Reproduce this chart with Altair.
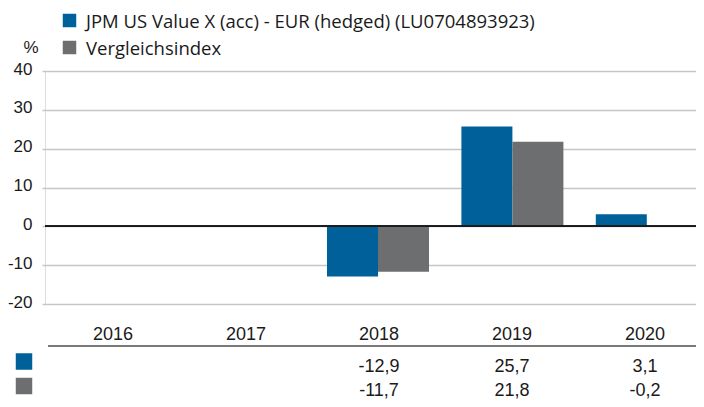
import altair as alt
import pandas as pd

# ---- data ----
years = ["2016", "2017", "2018", "2019", "2020"]
series_names = ["JPM US Value X (acc) - EUR (hedged) (LU0704893923)", "Vergleichsindex"]
fund_values = [None, None, -12.9, 25.7, 3.1]
index_values = [None, None, -11.7, 21.8, -0.2]
y_ticks = [-20, -10, 0, 10, 20, 30, 40]
colors = ["#00609a", "#6d6e70"]

rows = []
for i, yr in enumerate(years):
    rows.append({"year": yr, "series": series_names[0], "value": fund_values[i]})
    rows.append({"year": yr, "series": series_names[1], "value": index_values[i]})
df = pd.DataFrame(rows)
df_years = pd.DataFrame({"year": years})

W = 651
H = 233
FONT = "Liberation Sans"
LFONT = "Open Sans"
TXT = "#1a1a1a"

bar_x = alt.X("year:N", sort=years, axis=None,
              scale=alt.Scale(range=[-3, 669], paddingInner=0.241, paddingOuter=0.1205))
tab_x = alt.X("year:N", sort=years, axis=None,
              scale=alt.Scale(range=[1.5, 666.5], paddingInner=0, paddingOuter=0))
yscale = alt.Scale(domain=[-20, 40], nice=False)
yaxis = alt.Axis(values=y_ticks, title=None, grid=True, gridColor="#c6c6c6",
                 gridWidth=1.5, domain=False, ticks=False, labelFont=FONT,
                 labelFontSize=17, labelColor=TXT, labelPadding=13,
                 labelOffset=-2, labelBaseline="middle", labelOverlap=False,
                 labelExpr="(datum.value < 0 ? '-' : '') + abs(datum.value)")

bars = alt.Chart(df).mark_bar().encode(
    x=bar_x,
    xOffset=alt.XOffset("series:N", sort=series_names,
                        scale=alt.Scale(paddingInner=0, paddingOuter=0)),
    y=alt.Y("value:Q", scale=yscale, axis=yaxis),
    color=alt.Color("series:N", scale=alt.Scale(domain=series_names, range=colors), legend=None),
)

zero = alt.Chart(df_years).mark_rule(color="#1a1a1a", strokeWidth=1.5).encode(
    y=alt.YDatum(0, axis=yaxis), x=alt.value(0), x2=alt.value(W)
)

year_labels = alt.Chart(df_years).mark_text(
    font=FONT, fontSize=18, color=TXT, baseline="alphabetic", align="center"
).encode(x=tab_x, y=alt.value(269), text="year:N")

table_line = alt.Chart(df_years).mark_rule(color="#7a7a7a", strokeWidth=1.3).encode(
    x=alt.value(3), x2=alt.value(W), y=alt.value(275)
)

def value_row(sname, ypos):
    return alt.Chart(df).transform_filter(
        alt.datum.series == sname
    ).transform_calculate(
        label="datum.value == null ? '' : (datum.value < 0 ? '-' : '') + replace(format(abs(datum.value), '.1f'), '.', ',')"
    ).mark_text(font=FONT, fontSize=18, color=TXT, baseline="alphabetic", align="center").encode(
        x=tab_x, y=alt.value(ypos), text="label:N"
    )

row1 = value_row(series_names[0], 301)
row2 = value_row(series_names[1], 325)

def square(color, x, y, size):
    return alt.Chart(df_years).transform_filter(alt.datum.year == years[0]).mark_square(
        size=size, color=color, opacity=1
    ).encode(x=alt.value(x), y=alt.value(y))

sq_t1 = square(colors[0], -21, 290.5, 272)
sq_t2 = square(colors[1], -21, 315, 272)
sq_l1 = square(colors[0], 24.5, -50.5, 182)
sq_l2 = square(colors[1], 24.5, -23.5, 182)

def label(text, x, y, align="left", font=LFONT, size=18.5):
    return alt.Chart(df_years).transform_filter(alt.datum.year == years[0]).mark_text(
        font=font, fontSize=size, color=TXT, baseline="alphabetic", align=align, text=text
    ).encode(x=alt.value(x), y=alt.value(y))

leg1 = label(series_names[0], 41, -43)
leg2 = label(series_names[1], 41, -16.5)
pct = label("%", -14, -18, align="center", font=FONT, size=17)

chart = alt.layer(
    bars, zero, year_labels, table_line, row1, row2,
    sq_t1, sq_t2, sq_l1, sq_l2, leg1, leg2, pct
).resolve_scale(x="independent").properties(
    width=W, height=H,
    autosize=alt.AutoSizeParams(type="none"),
    padding={"left": 37, "top": 63, "right": 0, "bottom": 95},
).configure_view(stroke=None).configure(background="white")

chart.save("out.html", embed_options={"renderer": "svg", "actions": False})
